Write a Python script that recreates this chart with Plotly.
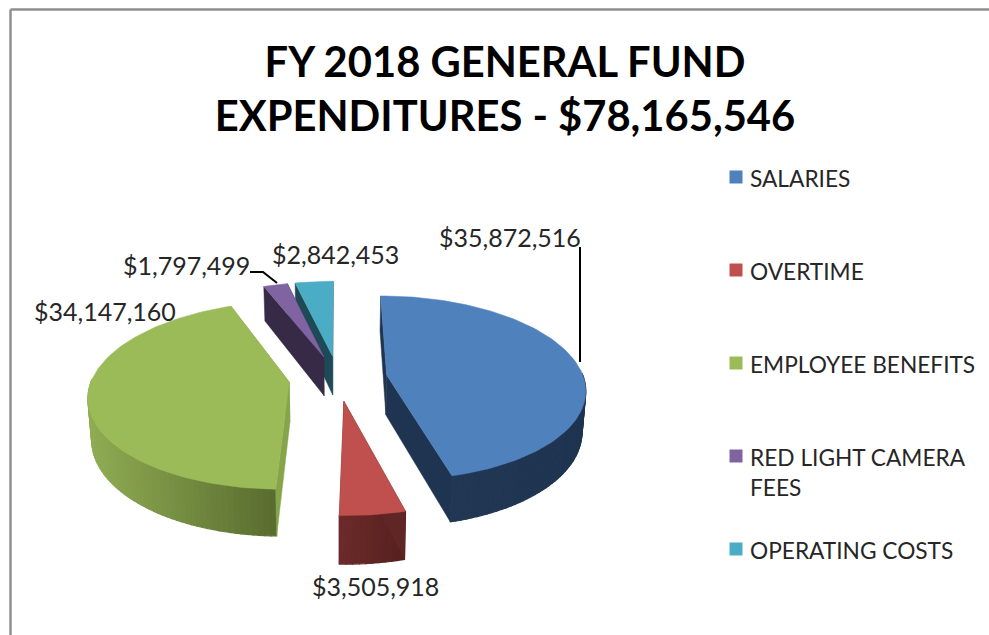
import math
import plotly.graph_objects as go

# ---- data ----
categories = ["SALARIES", "OVERTIME", "EMPLOYEE BENEFITS", "RED LIGHT CAMERA<br>FEES", "OPERATING COSTS"]
values = [35872516, 3505918, 34147160, 1797499, 2842453]
title_text = "FY 2018 GENERAL FUND<br>EXPENDITURES - $78,165,546"

# ---- styles ----
top_colors = ["#4f81bd", "#c0504d", "#9bbb59", "#8064a2", "#4bacc6"]
wall_left = ["#213754", "#6c2b2a", "#90ad53", "#362a46", "#1d4a56"]
wall_right = ["#1f3450", "#55211f", "#596c2f", "#362a46", "#1d4a56"]
edge_colors = ["#1f3450", "#5f2625", "#86a44a", "#362a46", "#1d4a56"]
FONT = "Lato"
TXT = "#262626"

# projection of the exploded 3D pie onto the page
CX, CY, A, B, P, EXPLODE, DEPTH, SHRINK = 338.0, 378.0, 197.0, 91.0, 0.14, 0.25, 40.0, 0.985


def project(X, Y, low=False):
    k = 1 / (1 + P * Y)
    sx = A * X * k * (SHRINK if low else 1)
    sy = -B * Y * k + (DEPTH * k if low else 0)
    return CX + sx, CY + sy


def mix(c1, c2, t):
    a = [int(c1[i:i + 2], 16) for i in (1, 3, 5)]
    b = [int(c2[i:i + 2], 16) for i in (1, 3, 5)]
    return "#%02x%02x%02x" % tuple(round(p + (q - p) * t) for p, q in zip(a, b))


def poly(pts, color, lw=0.5):
    return go.Scatter(
        x=[p[0] for p in pts] + [pts[0][0]],
        y=[p[1] for p in pts] + [pts[0][1]],
        mode="lines", fill="toself", fillcolor=color,
        line=dict(color=color, width=lw),
        hoverinfo="skip", showlegend=False,
    )


total = sum(values)
spans = []
acc = 0.0
for v in values:
    spans.append((acc / total * 360, (acc + v) / total * 360))
    acc += v

order = sorted(range(len(values)), key=lambda i: -math.cos(math.radians(sum(spans[i]) / 2)))
traces = []
for i in order:
    t0, t1 = spans[i]
    mid = math.radians((t0 + t1) / 2)
    ox, oy = EXPLODE * math.sin(mid), EXPLODE * math.cos(mid)
    n = max(3, int((t1 - t0) / 1.5))
    angles = [t0 + (t1 - t0) * j / n for j in range(n + 1)]
    ground = [(ox + math.sin(math.radians(t)), oy + math.cos(math.radians(t))) for t in angles]
    apex = (ox, oy)
    xs = [project(*g)[0] for g in ground]
    front = [j for j in range(n) if math.cos(math.radians((angles[j] + angles[j + 1]) / 2)) < 0.03]
    fx = [xs[j] for j in front] + [xs[j + 1] for j in front]

    def quad(g1, g2):
        return [project(*g1), project(*g2), project(*g2, True), project(*g1, True)]

    traces.append(poly(quad(apex, ground[-1]), edge_colors[i]))
    for j in sorted(front, key=lambda j: -(ground[j][1] + ground[j + 1][1])):
        xm = (xs[j] + xs[j + 1]) / 2
        t = (xm - min(fx)) / max(max(fx) - min(fx), 1)
        traces.append(poly(quad(ground[j], ground[j + 1]), mix(wall_left[i], wall_right[i], t), 1.2))
    traces.append(poly(quad(apex, ground[0]), edge_colors[i]))
    traces.append(poly([project(*apex)] + [project(*g) for g in ground], top_colors[i]))

# leader lines
leader_x = [[580, 580], [250, 263, 277]]
leader_y = [[247, 362], [272, 272, 283]]
for lx, ly in zip(leader_x, leader_y):
    traces.append(go.Scatter(x=lx, y=ly, mode="lines", line=dict(color="#000000", width=2),
                             hoverinfo="skip", showlegend=False))

# legend markers
LEG_X, LEG_Y0, LEG_DY = 736, 177, 93
traces.append(go.Scatter(
    x=[LEG_X] * len(values), y=[LEG_Y0 + LEG_DY * i for i in range(len(values))],
    mode="markers", marker=dict(symbol="square", size=13, color=top_colors, line=dict(width=0)),
    hoverinfo="skip", showlegend=False))

annotations = []
label_pos = [(510, 237), (375.5, 586), (104.5, 311), (186, 265), (335.5, 254)]
for v, (lx, ly) in zip(values, label_pos):
    annotations.append(dict(x=lx, y=ly, xref="x", yref="y", text=f"${v:,.0f}", showarrow=False,
                            xanchor="center", yanchor="middle",
                            font=dict(family=FONT, size=25, color=TXT)))
for i, c in enumerate(categories):
    annotations.append(dict(x=748, y=LEG_Y0 + LEG_DY * i + 1, xref="x", yref="y", text=c, showarrow=False,
                            xanchor="left", yanchor="top" if "<br>" in c else "middle",
                            yshift=15 if "<br>" in c else 0, align="left",
                            font=dict(family=FONT, size=22.7, color=TXT)))

fig = go.Figure(traces)
fig.update_layout(
    width=989, height=635, margin=dict(l=0, r=0, t=0, b=0),
    paper_bgcolor="white", plot_bgcolor="white", showlegend=False,
    xaxis=dict(range=[0, 989], visible=False, fixedrange=True),
    yaxis=dict(range=[635, 0], visible=False, fixedrange=True),
    title=dict(text="<b>" + title_text.replace("<br>", "</b><br><b>") + "</b>",
               x=505 / 989, xanchor="center", y=1 - 77 / 635, yanchor="top",
               font=dict(family=FONT, size=41.7, color="#000000")),
    annotations=annotations,
    shapes=[
        dict(type="line", xref="paper", yref="paper", x0=10.5 / 989, x1=1, y0=1 - 9.5 / 635, y1=1 - 9.5 / 635,
             line=dict(color="#8f8f8f", width=2.5)),
        dict(type="line", xref="paper", yref="paper", x0=10.5 / 989, x1=10.5 / 989, y0=0, y1=1 - 9.5 / 635,
             line=dict(color="#8f8f8f", width=2.5)),
    ],
)
fig.write_html("out.html", config={"displayModeBar": False},
               post_script="document.body.style.margin='0';document.body.style.overflow='hidden';")
